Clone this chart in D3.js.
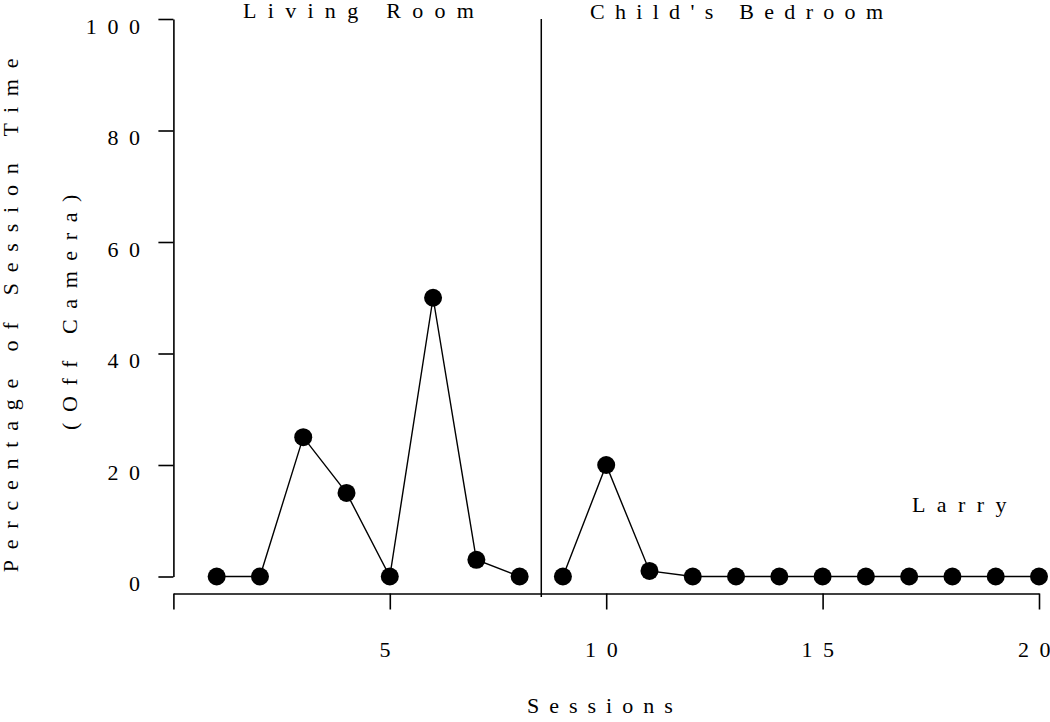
<!DOCTYPE html>
<html>
<head>
<meta charset="utf-8">
<script src="https://cdn.jsdelivr.net/npm/d3@7"></script>
<style>
  html, body { margin: 0; padding: 0; background: #fff; }
  svg { display: block; }
  text { font-family: "Liberation Serif", "Times New Roman", serif; fill: #000; }
</style>
</head>
<body>
<svg id="chart" width="1050" height="722"></svg>
<script>
// ---- data ----
const sessions = [1,2,3,4,5,6,7,8,9,10,11,12,13,14,15,16,17,18,19,20];
const offCamera = [0,0,25,15,0,50,3,0,0,20,1,0,0,0,0,0,0,0,0,0];
const phaseBreak = 8.5; // between session 8 and 9
const phaseLabels = ["Living Room", "Child's Bedroom"];
const participant = "Larry";
const xTicks = [0,5,10,15,20];
const yTicks = [0,20,40,60,80,100];

const svg = d3.select("#chart");
const fs = 22;
const ls = "10.6px";

const x = d3.scaleLinear().domain([0,20]).range([173.4, 1039]);
const y = d3.scaleLinear().domain([0,100]).range([576.5, 19]);

// y axis
const yAxis = d3.axisLeft(y).tickValues(yTicks).tickSizeInner(15).tickSizeOuter(0).tickPadding(0);
const gy = svg.append("g").attr("transform", "translate(173.4,0)").call(yAxis);
gy.select(".domain").attr("stroke", "#000").attr("stroke-width", 1.6);
gy.selectAll(".tick line").attr("stroke", "#000").attr("stroke-width", 1.6);
gy.selectAll(".tick text")
  .attr("x", -22.8).attr("dy", null).attr("y", 14)
  .attr("font-size", fs).attr("letter-spacing", ls)
  .style("font-family", "'Liberation Serif', serif")
  .attr("fill", "#000");

// x axis
const xAxis = d3.axisBottom(x).tickValues(xTicks).tickSizeInner(16).tickSizeOuter(0)
  .tickFormat(d => d === 0 ? "" : String(d));
const gx = svg.append("g").attr("transform", "translate(0,593.5)").call(xAxis);
gx.select(".domain").attr("stroke", "#000").attr("stroke-width", 1.6);
gx.selectAll(".tick line").attr("stroke", "#000").attr("stroke-width", 1.6);
gx.selectAll(".tick text")
  .attr("y", 63.5).attr("dy", null)
  .attr("font-size", fs).attr("letter-spacing", ls)
  .style("font-family", "'Liberation Serif', serif")
  .attr("fill", "#000");

// phase change line
svg.append("line")
  .attr("x1", x(phaseBreak)).attr("x2", x(phaseBreak))
  .attr("y1", y(100)).attr("y2", 597)
  .attr("stroke", "#000").attr("stroke-width", 1.5);

// data lines per phase
const pts = sessions.map((s,i) => ({s, v: offCamera[i]}));
const line = d3.line().x(d => x(d.s)).y(d => y(d.v));
[pts.filter(d => d.s < phaseBreak), pts.filter(d => d.s > phaseBreak)].forEach(seg => {
  svg.append("path").datum(seg).attr("d", line)
    .attr("fill", "none").attr("stroke", "#000").attr("stroke-width", 1.4);
});
svg.selectAll("circle.pt").data(pts).enter().append("circle")
  .attr("class", "pt")
  .attr("cx", d => x(d.s)).attr("cy", d => y(d.v)).attr("r", 9)
  .attr("fill", "#000");

// text
function label(t, px, py, opts = {}) {
  const el = svg.append("text").text(t)
    .attr("x", px).attr("y", py)
    .attr("font-size", fs).attr("letter-spacing", opts.ls || ls);
  if (opts.anchor) el.attr("text-anchor", opts.anchor);
  if (opts.rotate) el.attr("transform", `rotate(-90,${px},${py})`);
  return el;
}
label(phaseLabels[0], 243, 17.5, {ls: "11.3px"});
label(phaseLabels[1], 590, 18.5, {ls: "10.3px"});
label(participant, 912, 512, {ls: "11.4px"});
label("Sessions", 527, 713, {ls: "10px"});
label("Percentage of Session Time", 17.5, 310, {anchor: "middle", rotate: true, ls: "10.8px"});
label("(Off Camera)", 76.5, 307, {anchor: "middle", rotate: true});
</script>
</body>
</html>
